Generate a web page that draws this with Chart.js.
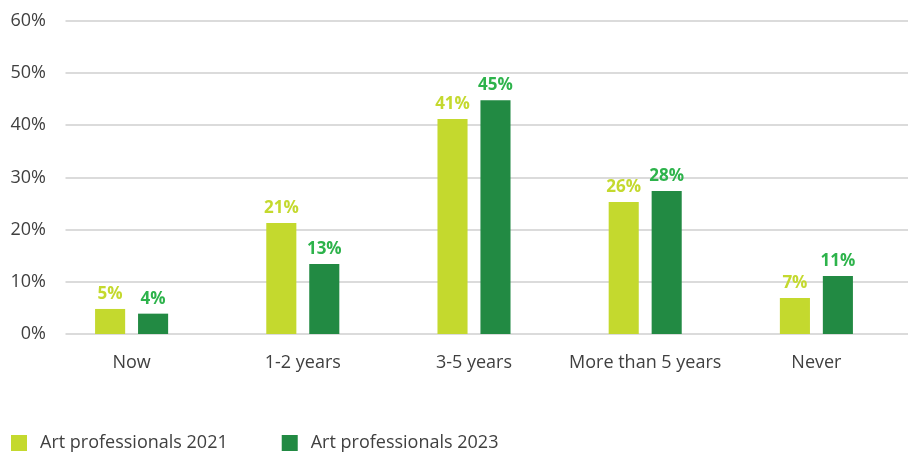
<!DOCTYPE html>
<html>
<head>
<meta charset="utf-8">
<script src="https://cdn.jsdelivr.net/npm/chart.js@4/dist/chart.umd.min.js"></script>
<style>
  html, body { margin: 0; padding: 0; background: #fff; }
  #wrap { width: 914px; height: 456px; }
</style>
</head>
<body>
<div id="wrap"><canvas id="chart"></canvas></div>
<script>
// data
const categories = ["Now", "1-2 years", "3-5 years", "More than 5 years", "Never"];
const seriesNames = ["Art professionals 2021", "Art professionals 2023"];
const values2021 = [4.8, 21.3, 41.2, 25.3, 6.9];
const values2023 = [3.9, 13.4, 44.8, 27.4, 11.1];
// printed labels above the bars
const labels2021 = [5, 21, 41, 26, 7];
const labels2023 = [4, 13, 45, 28, 11];
const yTicks = [0, 10, 20, 30, 40, 50, 60];

const FONT = "'Open Sans', 'Noto Sans', sans-serif";
const barColors = ["#c4d92e", "#228a43"];
const labelColors = ["#c4d92e", "#2db34b"];

// horizontal grid lines (start a little right of the plot edge, like the original)
const gridPlugin = {
  id: "grid",
  beforeDatasetsDraw(chart) {
    const { ctx, chartArea, scales } = chart;
    ctx.save();
    ctx.strokeStyle = "#cfcfcf";
    ctx.lineWidth = 1.5;
    yTicks.forEach(v => {
      const y = Math.round(scales.y.getPixelForValue(v));
      ctx.beginPath();
      ctx.moveTo(chartArea.left + 19.5, y);
      ctx.lineTo(chartArea.right + 6, y);
      ctx.stroke();
    });
    ctx.restore();
  }
};

// value labels on top of bars
const valueLabels = {
  id: "valueLabels",
  afterDatasetsDraw(chart) {
    const { ctx } = chart;
    const printed = [labels2021, labels2023];
    ctx.save();
    ctx.font = "bold 17px " + FONT;
    ctx.textAlign = "center";
    ctx.textBaseline = "alphabetic";
    chart.data.datasets.forEach((ds, i) => {
      ctx.fillStyle = labelColors[i];
      chart.getDatasetMeta(i).data.forEach((bar, j) => {
        ctx.fillText(printed[i][j] + "%", bar.x, bar.y - 10);
      });
    });
    ctx.restore();
  }
};

// legend along the bottom
const bottomLegend = {
  id: "bottomLegend",
  afterDraw(chart) {
    const { ctx } = chart;
    ctx.save();
    ctx.font = "18px " + FONT;
    ctx.textBaseline = "middle";
    let x = 11;
    const y = 443;
    chart.data.datasets.forEach(ds => {
      ctx.fillStyle = ds.backgroundColor;
      ctx.fillRect(x, y - 8, 16, 16);
      ctx.fillStyle = "#404040";
      ctx.fillText(ds.label, x + 29, y);
      x += 29 + ctx.measureText(ds.label).width + 54;
    });
    ctx.restore();
  }
};

new Chart(document.getElementById("chart"), {
  type: "bar",
  data: {
    labels: categories,
    datasets: [
      {
        label: seriesNames[0],
        data: values2021,
        backgroundColor: barColors[0],
        categoryPercentage: 0.502,
        barPercentage: 0.7,
      },
      {
        label: seriesNames[1],
        data: values2023,
        backgroundColor: barColors[1],
        categoryPercentage: 0.502,
        barPercentage: 0.7,
      },
    ],
  },
  options: {
    responsive: true,
    maintainAspectRatio: false,
    animation: false,
    layout: { padding: { top: 21, right: 12, left: 0, bottom: 0 } },
    plugins: {
      legend: { display: false },
      tooltip: { enabled: false },
    },
    scales: {
      x: {
        grid: { display: false, drawTicks: false },
        border: { display: false },
        ticks: {
          color: "#404040",
          font: { family: FONT, size: 18 },
          padding: 18,
          maxRotation: 0,
        },
        afterFit(scale) { scale.height = 122; },
      },
      y: {
        min: 0,
        max: 60,
        grid: { display: false, drawTicks: false },
        border: { display: false },
        ticks: {
          stepSize: 10,
          padding: 0,
          color: "#404040",
          font: { family: FONT, size: 18 },
          callback: v => v + "%",
        },
        afterFit(scale) { scale.width = 46; },
      },
    },
  },
  plugins: [gridPlugin, valueLabels, bottomLegend],
});
</script>
</body>
</html>
